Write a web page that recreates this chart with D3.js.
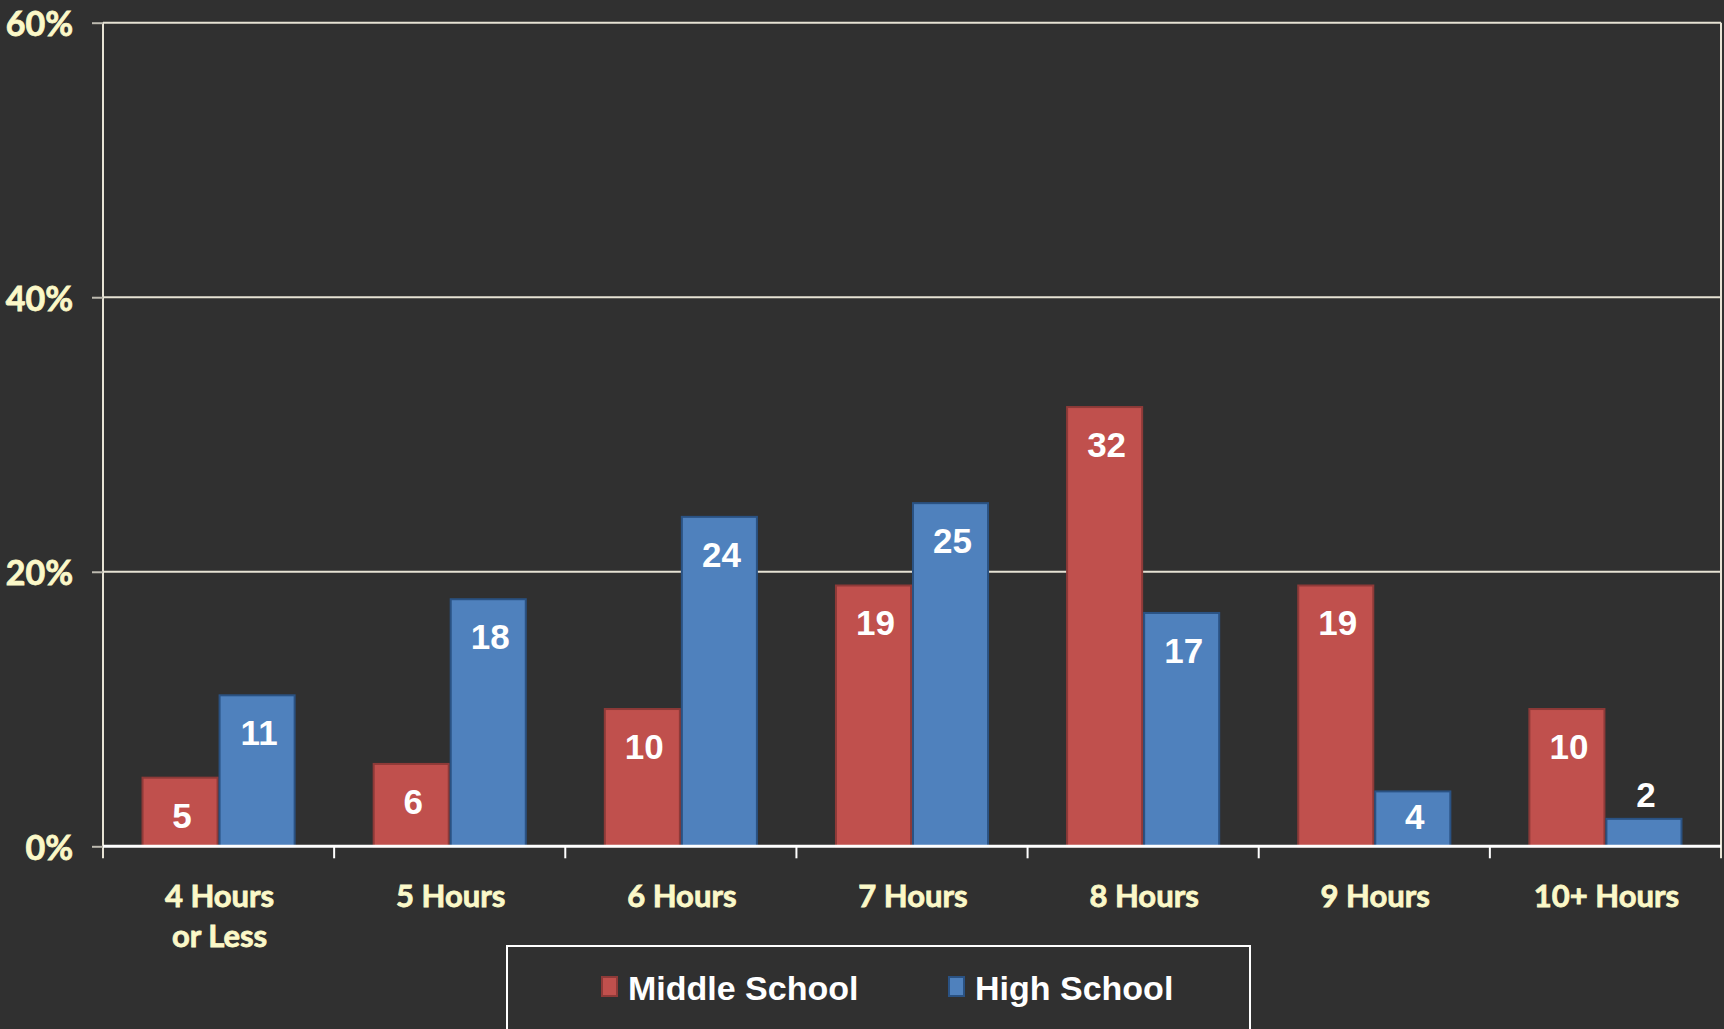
<!DOCTYPE html>
<html>
<head>
<meta charset="utf-8">
<script src="https://cdn.jsdelivr.net/npm/d3@7"></script>
<style>
  html, body { margin: 0; padding: 0; background: #303030; }
  svg { display: block; }
</style>
</head>
<body>
<svg id="chart" width="1724" height="1029"></svg>
<script>
// Hours of sleep on a school night, share of students (%)
const categories = ["4 Hours\nor Less", "5 Hours", "6 Hours", "7 Hours", "8 Hours", "9 Hours", "10+ Hours"];
const seriesNames = ["Middle School", "High School"];
const middleSchool = [5, 6, 10, 19, 32, 19, 10];
const highSchool = [11, 18, 24, 25, 17, 4, 2];
const yTicks = [0, 20, 40, 60];

const fills = { "Middle School": "#C0504D", "High School": "#4F81BD" };
const strokes = { "Middle School": "#8E3A38", "High School": "#2A5283" };

const svg = d3.select("#chart");
const W = 1724, H = 1029;
const plot = { left: 103, right: 1721, top: 22.7, bottom: 846.3 };

svg.append("rect").attr("width", W).attr("height", H).attr("fill", "#303030");

const x0 = d3.scaleBand().domain(categories).range([plot.left, plot.right]).paddingInner(0).paddingOuter(0);
const x1 = d3.scaleBand().domain(seriesNames).range([0, x0.bandwidth()]).paddingInner(0).paddingOuter(0.5);
const y = d3.scaleLinear().domain([0, 60]).range([plot.bottom, plot.top]);

const cream = "#FBF8C8";
const axisFont = "Lato, 'Open Sans', sans-serif";
const narrowFont = "'Liberation Sans Narrow', 'Arial Narrow', 'Liberation Sans', Arial, sans-serif";

// horizontal gridlines
svg.append("g").selectAll("line").data(yTicks.filter(d => d > 0)).join("line")
  .attr("x1", plot.left).attr("x2", plot.right)
  .attr("y1", d => y(d)).attr("y2", d => y(d))
  .attr("stroke", "#E6E2D4").attr("stroke-width", 2);

// right border of the plot area
svg.append("line")
  .attr("x1", plot.right).attr("x2", plot.right)
  .attr("y1", plot.top).attr("y2", plot.bottom + 12)
  .attr("stroke", "#E6E2D4").attr("stroke-width", 2);

// y axis
const yAxis = svg.append("g").attr("transform", `translate(${plot.left},0)`)
  .call(d3.axisLeft(y).tickValues(yTicks).tickSize(11).tickPadding(19).tickFormat(d => d + "%"));
yAxis.select(".domain").attr("stroke", "#E6E2D4").attr("stroke-width", 2)
  .attr("d", `M0,${plot.top}V${plot.bottom + 12}`);
yAxis.selectAll(".tick line").attr("stroke", "#BDBAB0").attr("stroke-width", 2);
yAxis.selectAll(".tick text")
  .attr("fill", cream).attr("stroke", cream).attr("stroke-width", 0.8)
  .attr("font-family", axisFont).attr("font-weight", 700)
  .attr("font-size", 34).attr("dy", "0.38em");

// bars
const groups = svg.append("g").selectAll("g").data(categories).join("g")
  .attr("transform", d => `translate(${x0(d)},0)`);

const rows = (c, i) => [
  { series: "Middle School", value: middleSchool[i] },
  { series: "High School", value: highSchool[i] }
];

groups.selectAll("rect").data((c, i) => rows(c, i)).join("rect")
  .attr("x", d => x1(d.series) + 1)
  .attr("width", x1.bandwidth() - 2)
  .attr("y", d => y(d.value))
  .attr("height", d => y(0) - y(d.value))
  .attr("fill", d => fills[d.series])
  .attr("stroke", d => strokes[d.series])
  .attr("stroke-width", 2);

// value labels: inside the bar top, or just above very short bars
groups.selectAll("text").data((c, i) => rows(c, i)).join("text")
  .attr("x", d => x1(d.series) + x1.bandwidth() / 2 + 2)
  .attr("y", d => (y(0) - y(d.value) < 40)
    ? y(d.value) - 12
    : Math.min(y(d.value) + 50, plot.bottom - 17))
  .attr("text-anchor", "middle")
  .attr("fill", "#FFFFFF")
  .attr("font-family", narrowFont).attr("font-weight", 700).attr("font-size", 35)
  .text(d => d.value);

// x axis baseline and category ticks
const xAxis = svg.append("g").attr("transform", `translate(0,${plot.bottom})`)
  .call(d3.axisBottom(x0).tickSize(0).tickPadding(0).tickFormat(""));
xAxis.select(".domain").attr("stroke", "#FFFFFF").attr("stroke-width", 3)
  .attr("d", `M${plot.left},0H${plot.right}`);

const boundaries = categories.map(c => x0(c)).concat([x0.range()[1]]);
svg.append("g").selectAll("line").data(boundaries.slice(1, -1)).join("line")
  .attr("x1", d => d).attr("x2", d => d)
  .attr("y1", plot.bottom).attr("y2", plot.bottom + 12)
  .attr("stroke", "#FFFFFF").attr("stroke-width", 2);

// category labels (multi-line)
const catLabels = svg.append("g").selectAll("text").data(categories).join("text")
  .attr("x", d => x0(d) + x0.bandwidth() / 2 + 1)
  .attr("y", 907)
  .attr("text-anchor", "middle")
  .attr("fill", cream).attr("stroke", cream).attr("stroke-width", 0.8)
  .attr("font-family", axisFont).attr("font-weight", 700).attr("font-size", 31);
catLabels.selectAll("tspan").data(d => d.split("\n")).join("tspan")
  .attr("x", function () { return d3.select(this.parentNode).attr("x"); })
  .attr("dy", (d, i) => i === 0 ? 0 : 40)
  .text(d => d);

// legend
const legend = svg.append("g");
legend.append("rect")
  .attr("x", 507).attr("y", 946).attr("width", 743).attr("height", 120)
  .attr("fill", "none").attr("stroke", "#FFFFFF").attr("stroke-width", 2);

const legendItems = [
  { series: "Middle School", x: 601 },
  { series: "High School", x: 948 }
];
const li = legend.selectAll("g.item").data(legendItems).join("g").attr("class", "item")
  .attr("transform", d => `translate(${d.x},976)`);
li.append("rect").attr("x", 1).attr("y", 1).attr("width", 15).attr("height", 19)
  .attr("fill", d => fills[d.series]).attr("stroke", d => strokes[d.series]).attr("stroke-width", 2);
li.append("text").attr("x", 27).attr("y", 24)
  .attr("fill", "#FFFFFF").attr("font-family", narrowFont).attr("font-weight", 700).attr("font-size", 34)
  .text(d => d.series);
</script>
</body>
</html>
